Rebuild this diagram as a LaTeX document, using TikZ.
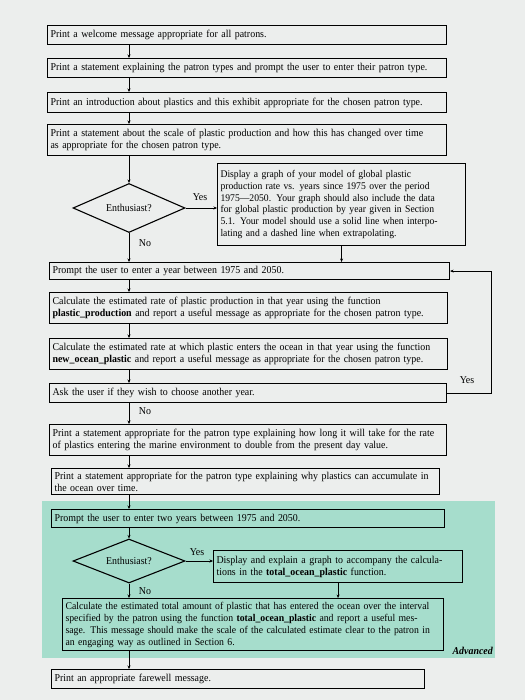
\documentclass[tikz,border=0pt]{standalone}
\usepackage{fontspec}
\setmainfont{Liberation Serif}[FakeStretch=0.945]
\usetikzlibrary{positioning,shapes.geometric,arrows.meta}
\definecolor{paper}{RGB}{236,238,237}
\definecolor{advgreen}{RGB}{166,221,204}

\begin{document}
\begin{tikzpicture}[
	x=1pt, y=-1pt
	,every node/.append style={font=\fontsize{10.5}{12}\selectfont}
	,pb/.style={draw, line width=1.1pt, anchor=north west, align=left, inner xsep=3pt, inner ysep=1pt}
	,db/.style={diamond, draw, line width=1.1pt, aspect=2.3, inner sep=0pt, minimum width=112pt}
	,ar/.style={-{Stealth[length=3.5pt,width=3pt]}, line width=0.9pt}
	,lb/.style={inner sep=1pt}
]
	\fill [paper] (0,0) rectangle (525,700);
	\useasboundingbox (0,0) rectangle (525,700);
	\fill [advgreen] (42,501) rectangle (495,658);

	\node [pb, text width=393pt, minimum height=19pt] (A) at (47,25) {Print a welcome message appropriate for all patrons.};
	\node [pb, text width=393pt, minimum height=19pt] (B) at (47,58) {Print a statement explaining the patron types and prompt the user to enter their patron type.};
	\node [pb, text width=393pt, minimum height=20pt] (C) at (47,92) {Print an introduction about plastics and this exhibit appropriate for the chosen patron type.};
	\node [pb, text width=393pt, minimum height=31pt] (D) at (47,124) {Print a statement about the scale of plastic production and how this has changed over time\\as appropriate for the chosen patron type.};
	\node [db, minimum height=49pt] (E) at (129,208) {Enthusiast?};
	\node [pb, text width=242pt, minimum height=82pt, font=\fontsize{10.2}{11.7}\selectfont] (F) at (217,163) {Display a graph of your model of global plastic\\production rate vs. years since 1975 over the period\\1975---2050. Your graph should also include the data\\for global plastic production by year given in Section\\5.1. Your model should use a solid line when interpo-\\lating and a dashed line when extrapolating.};
	\node [pb, text width=394pt, minimum height=17pt] (G) at (49,262) {Prompt the user to enter a year between 1975 and 2050.};
	\node [pb, text width=392pt, minimum height=31pt] (H) at (49,292) {Calculate the estimated rate of plastic production in that year using the function\\\textbf{plastic\_production} and report a useful message as appropriate for the chosen patron type.};
	\node [pb, text width=392pt, minimum height=31pt] (I) at (49,338) {Calculate the estimated rate at which plastic enters the ocean in that year using the function\\\textbf{new\_ocean\_plastic} and report a useful message as appropriate for the chosen patron type.};
	\node [pb, text width=391pt, minimum height=19pt] (J) at (49,383) {Ask the user if they wish to choose another year.};
	\node [pb, text width=391pt, minimum height=31pt] (K) at (49,424) {Print a statement appropriate for the patron type explaining how long it will take for the rate\\of plastics entering the marine environment to double from the present day value.};
	\node [pb, text width=382pt, minimum height=26pt] (L) at (51,468) {Print a statement appropriate for the patron type explaining why plastics can accumulate in\\the ocean over time.};
	\node [pb, text width=387pt, minimum height=18pt] (M) at (51,509) {Prompt the user to enter two years between 1975 and 2050.};
	\node [db, minimum height=44pt] (N) at (129,561) {Enthusiast?};
	\node [pb, text width=243pt, minimum height=32pt] (O) at (213,550) {Display and explain a graph to accompany the calcula-\\tions in the \textbf{total\_ocean\_plastic} function.};
	\node [pb, text width=375pt, minimum height=52pt, font=\fontsize{10.3}{12}\selectfont] (P) at (62,598) {Calculate the estimated total amount of plastic that has entered the ocean over the interval\\specified by the patron using the function \textbf{total\_ocean\_plastic} and report a useful mes-\\sage. This message should make the scale of the calculated estimate clear to the patron in\\an engaging way as outlined in Section 6.};
	\node [pb, text width=367pt, minimum height=19pt] (Q) at (51,669) {Print an appropriate farewell message.};
	\node [lb, anchor=east, font=\fontsize{10.5}{12}\selectfont\bfseries\itshape] (R) at (494,651) {Advanced};

	\node [lb] (S) at (200,197) {Yes};
	\node [lb] (T) at (145,243) {No};
	\node [lb] (U) at (467,380) {Yes};
	\node [lb] (V) at (145,411) {No};
	\node [lb] (W) at (197,552) {Yes};
	\node [lb] (X) at (145,591) {No};

	\draw [ar] (A.south -| E) -- (B.north -| E);
	\draw [ar] (B.south -| E) -- (C.north -| E);
	\draw [ar] (C.south -| E) -- (D.north -| E);
	\draw [ar] (D.south -| E) -- (E.north);
	\draw [ar] (E.east) -- (E.east -| F.west);
	\draw [ar] (E.south) -- (E.south |- G.north);
	\draw [ar] (F.south) -- (F.south |- G.north);
	\draw [ar] (G.south -| E) -- (H.north -| E);
	\draw [ar] (H.south -| E) -- (I.north -| E);
	\draw [ar] (I.south -| E) -- (J.north -| E);
	\draw [ar] (J.east) -- ++(44,0) |- (G.east);
	\draw [ar] (J.south -| E) -- (K.north -| E);
	\draw [ar] (K.south -| E) -- (L.north -| E);
	\draw [ar] (L.south -| N) -- (M.north -| N);
	\draw [ar] (M.south -| N) -- (N.north);
	\draw [ar] (N.east) -- (N.east -| O.west);
	\draw [ar] (N.south) -- (N.south |- P.north);
	\draw [ar] (O.south) -- (O.south |- P.north);
	\draw [ar] (P.south -| N) -- (Q.north -| N);
\end{tikzpicture}
\end{document}
